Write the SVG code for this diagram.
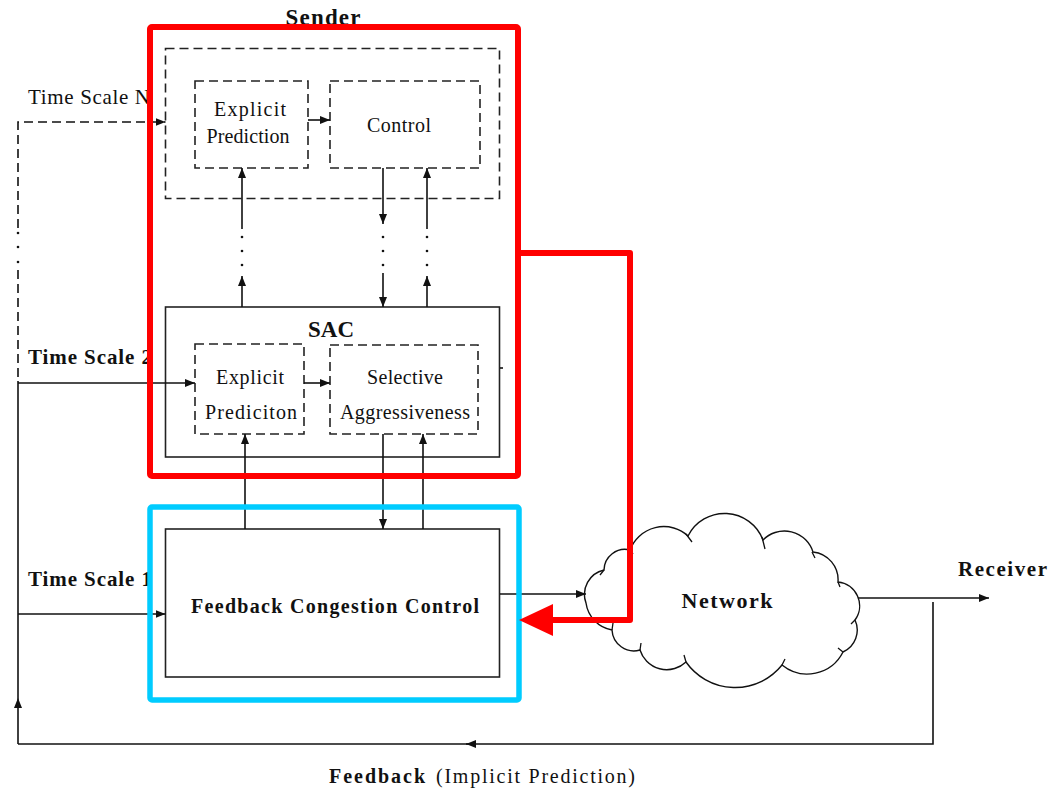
<svg xmlns="http://www.w3.org/2000/svg" width="1051" height="790" viewBox="0 0 1051 790">
<style>
.t{font-family:"Liberation Serif","Times New Roman",serif;fill:#111}
.b{font-weight:bold}
.box{fill:none;stroke:#222;stroke-width:1.6}
.dbox{fill:none;stroke:#222;stroke-width:1.6;stroke-dasharray:9 5}
.ln{fill:none;stroke:#111;stroke-width:1.6}
.dl{fill:none;stroke:#111;stroke-width:1.6;stroke-dasharray:9 5}
.dot{fill:#111}
</style>
<defs>
<marker id="ah" viewBox="0 0 10 8" refX="10" refY="4" markerWidth="10" markerHeight="8" orient="auto" markerUnits="userSpaceOnUse">
<path d="M0,0 L10,4 L0,8 z" fill="#111"/>
</marker>
</defs>
<rect width="1051" height="790" fill="#fff"/>

<g id="labels">
<text class="t b" x="323" y="25" font-size="23" text-anchor="middle" textLength="75">Sender</text>
<text class="t" x="28" y="104" font-size="21" textLength="122">Time Scale N</text>
<text class="t b" x="28" y="364" font-size="21" textLength="124">Time Scale 2</text>
<text class="t b" x="28" y="586" font-size="21" textLength="124">Time Scale 1</text>
<text class="t b" x="958" y="576" font-size="21" textLength="89">Receiver</text>
<text class="t" x="329" y="783" font-size="20"><tspan class="b" textLength="96">Feedback</tspan><tspan x="436" textLength="199">(Implicit Prediction)</tspan></text>
</g>

<g id="timescaleN">
<rect class="dbox" x="165.5" y="48.5" width="334" height="150"/>
</g>
<g id="explicit-prediction-top">
<rect class="dbox" x="195" y="81" width="113" height="87"/>
<text class="t" x="250" y="116" font-size="20" text-anchor="middle" textLength="72">Explicit</text>
<text class="t" x="248" y="143" font-size="20" text-anchor="middle" textLength="83">Prediction</text>
</g>
<g id="control">
<rect class="dbox" x="330" y="81" width="150" height="87"/>
<text class="t" x="399" y="132" font-size="20" text-anchor="middle" textLength="64">Control</text>
</g>

<g id="sac">
<rect class="box" x="165.5" y="307" width="334" height="150"/>
<text class="t b" x="331" y="337" font-size="23" text-anchor="middle" textLength="46">SAC</text>
</g>
<g id="explicit-prediction-sac">
<rect class="dbox" x="195" y="344" width="109" height="90"/>
<text class="t" x="250" y="384" font-size="20" text-anchor="middle" textLength="68">Explicit</text>
<text class="t" x="251" y="419" font-size="20" text-anchor="middle" textLength="92">Prediciton</text>
</g>
<g id="selective-aggressiveness">
<rect class="dbox" x="330" y="345" width="148" height="89"/>
<text class="t" x="405" y="384" font-size="20" text-anchor="middle" textLength="76">Selective</text>
<text class="t" x="405" y="419" font-size="20" text-anchor="middle" textLength="130">Aggressiveness</text>
</g>

<g id="fcc">
<rect class="box" x="165.5" y="529" width="334" height="148"/>
<text class="t b" x="335" y="613" font-size="20" text-anchor="middle" textLength="288">Feedback Congestion Control</text>
</g>

<g id="network">
<path d="M586,603 A25 25 0 0 1 604,570 A21 21 0 0 1 630,550 A36 36 0 0 1 688,536 A41 41 0 0 1 763,540 A30 30 0 0 1 813,552 A28 28 0 0 1 838,582 A24 24 0 0 1 855,620 A24 24 0 0 1 843,652 A40 40 0 0 1 782,665 A60 60 0 0 1 686,662 A28 28 0 0 1 640,650 A22 22 0 0 1 612,630 A32 32 0 0 1 586,603 Z" fill="#fff" stroke="#111" stroke-width="1.4"/>
<path d="M686,534 l6,8 M762,537 l3,12 M812,552 l3,6 M838,582 l2,5 M855,620 l-4,4 M843,652 l-5,-4 M782,665 l3,-6 M686,662 l-2,-7 M640,650 l1,-7 M612,630 l1,-7 M604,570 l-4,5 M630,550 l3,4" fill="none" stroke="#111" stroke-width="1.3"/>
<text class="t b" x="727" y="608" font-size="22" text-anchor="middle" textLength="91">Network</text>
</g>

<g id="connectors">
<path class="dl" d="M18,228 V122 H165.5" marker-end="url(#ah)"/>
<circle class="dot" cx="18" cy="233" r="1.3"/>
<circle class="dot" cx="18" cy="247" r="1.3"/>
<circle class="dot" cx="18" cy="262" r="1.3"/>
<path class="dl" d="M18,270 V381"/>
<path class="ln" d="M18,381 V698"/>
<path class="ln" d="M18,744 V698" marker-end="url(#ah)"/>
<path class="ln" d="M18,383 H195" marker-end="url(#ah)"/>
<path class="ln" d="M18,614 H165.5" marker-end="url(#ah)"/>
<path class="ln" d="M933,602 V744 H466" marker-end="url(#ah)"/>
<path class="ln" d="M470,744 H18"/>
<path class="ln" d="M308,120 H330" marker-end="url(#ah)"/>
<path class="ln" d="M304,383 H330" marker-end="url(#ah)"/>

<path class="ln" d="M242,229 V168" marker-end="url(#ah)"/>
<path class="ln" d="M242,307 V276" marker-end="url(#ah)"/>
<path class="ln" d="M383,168 V224" marker-end="url(#ah)"/>
<path class="ln" d="M383,273 V307" marker-end="url(#ah)"/>
<path class="ln" d="M427,229 V168" marker-end="url(#ah)"/>
<path class="ln" d="M427,307 V276" marker-end="url(#ah)"/>
<circle class="dot" cx="242" cy="237" r="1.3"/><circle class="dot" cx="242" cy="251" r="1.3"/><circle class="dot" cx="242" cy="265" r="1.3"/>
<circle class="dot" cx="383" cy="237" r="1.3"/><circle class="dot" cx="383" cy="251" r="1.3"/><circle class="dot" cx="383" cy="265" r="1.3"/>
<circle class="dot" cx="427" cy="237" r="1.3"/><circle class="dot" cx="427" cy="251" r="1.3"/><circle class="dot" cx="427" cy="265" r="1.3"/>

<path class="ln" d="M245,529 V434" marker-end="url(#ah)"/>
<path class="ln" d="M383,434 V529" marker-end="url(#ah)"/>
<path class="ln" d="M423,529 V434" marker-end="url(#ah)"/>
<path class="ln" d="M500,368 h3"/>

<path class="ln" d="M500,594 H586" marker-end="url(#ah)"/>
<path class="ln" d="M858,598 H989" marker-end="url(#ah)"/>
</g>

<g id="highlights">
<rect x="150" y="27" width="368" height="449" rx="2" fill="none" stroke="#ff0000" stroke-width="6"/>
<rect x="150" y="507" width="369" height="193" rx="2" fill="none" stroke="#00ccff" stroke-width="5.5"/>
<path d="M518,253 H630 V620 H548" fill="none" stroke="#ff0000" stroke-width="6" stroke-linejoin="round"/>
<polygon points="519,620 553,604 553,636" fill="#ff0000"/>
</g>
</svg>
